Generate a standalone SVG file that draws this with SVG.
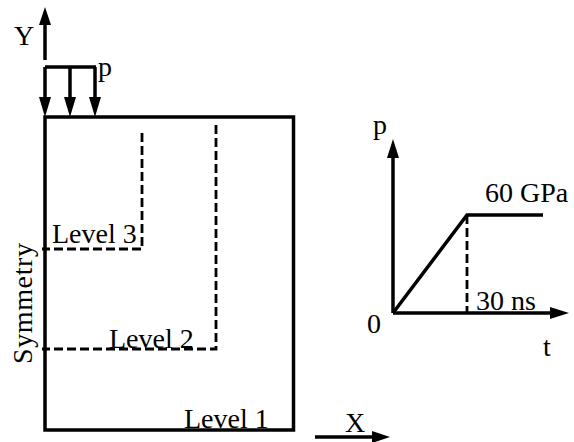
<svg xmlns="http://www.w3.org/2000/svg" width="574" height="442" viewBox="0 0 574 442">
<style>
.ln{stroke:#000;stroke-width:3.5;fill:none}
.ds{stroke:#000;stroke-width:2.8;fill:none;stroke-dasharray:9,4}
.ah{fill:#000;stroke:none}
text{font-family:"Liberation Serif","Times New Roman",serif;font-size:28px;fill:#000}
</style>
<rect width="574" height="442" fill="#fff"/>
<g id="connectors">
<line class="ln" x1="45" y1="60" x2="45" y2="22"/>
<polygon class="ah" points="45,7 39,25 51,25"/>
<line class="ln" x1="45" y1="67" x2="96" y2="67"/>
<line class="ln" x1="45" y1="67" x2="45" y2="100"/>
<polygon class="ah" points="45,117 39,97 51,97"/>
<line class="ln" x1="70" y1="67" x2="70" y2="100"/>
<polygon class="ah" points="70,117 64,97 76,97"/>
<line class="ln" x1="95" y1="67" x2="95" y2="100"/>
<polygon class="ah" points="95,117 89,97 101,97"/>
<line class="ln" x1="315" y1="437" x2="375" y2="437"/>
<polygon class="ah" points="390,437 372,431 372,443"/>
</g>
<g id="domain">
<rect class="ln" x="45" y="117" width="248.5" height="313"/>
</g>
<g id="level3">
<polyline class="ds" points="142,133 142,249 42,249"/>
<text x="52" y="243">Level 3</text>
</g>
<g id="level2">
<polyline class="ds" points="216,125 216,349 42,349"/>
<text x="109" y="348">Level 2</text>
</g>
<g id="level1">
<text x="184" y="428">Level 1</text>
</g>
<g id="labels">
<text x="14" y="45">Y</text>
<text x="98" y="76">p</text>
<text x="345" y="432">X</text>
<text transform="translate(32,364) rotate(-90)" textLength="121">Symmetry</text>
</g>
<g id="graph">
<line class="ln" x1="393" y1="313" x2="393" y2="155"/>
<polygon class="ah" points="393,139 387,158 399,158"/>
<line class="ln" x1="393" y1="313" x2="552" y2="313"/>
<polygon class="ah" points="569,313 550,307 550,319"/>
<polyline class="ln" points="393,313 467,215 543,215"/>
<line class="ds" x1="467" y1="215" x2="467" y2="313"/>
<text x="373" y="134">p</text>
<text x="485" y="202">60 GPa</text>
<text x="476" y="310">30 ns</text>
<text x="367" y="333">0</text>
<text x="543" y="356">t</text>
</g>
</svg>
